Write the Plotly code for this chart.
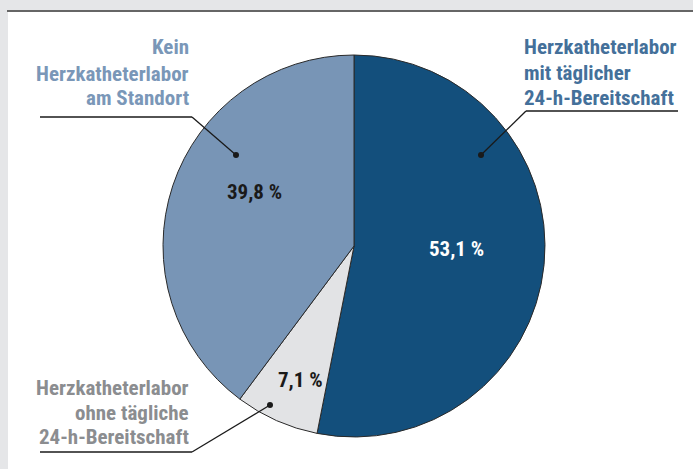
import plotly.graph_objects as go

categories = ["Herzkatheterlabor mit täglicher 24-h-Bereitschaft",
              "Herzkatheterlabor ohne tägliche 24-h-Bereitschaft",
              "Kein Herzkatheterlabor am Standort"]
values = [53.1, 7.1, 39.8]
value_labels = ["53,1 %", "7,1 %", "39,8 %"]
slice_colors = ["#134f7c", "#e2e3e5", "#7895b6"]
text_colors = ["#ffffff", "#1a1a1a", "#1a1a1a"]
label_lines = [["Herzkatheterlabor", "mit täglicher", "24-h-Bereitschaft"],
               ["Herzkatheterlabor", "ohne tägliche", "24-h-Bereitschaft"],
               ["Kein", "Herzkatheterlabor", "am Standort"]]
label_colors = ["#44709a", "#8b8d90", "#7a97b8"]

W, H = 693, 469
FONT = "Roboto Condensed, Liberation Sans Narrow, Arial Narrow, DejaVu Sans Condensed, sans-serif"


def px(x, y):
    return x / W, 1 - y / H


cx, cy, r = 354, 246, 191
x0, y0 = px(cx - r, cy + r)
x1, y1 = px(cx + r, cy - r)

fig = go.Figure(go.Pie(
    labels=categories, values=values, sort=False, direction="clockwise",
    rotation=0, marker=dict(colors=slice_colors, line=dict(color="#2a2a2a", width=1)),
    textinfo="none",
    domain=dict(x=[x0, x1], y=[y0, y1]), showlegend=False, hoverinfo="label+value",
))

shapes = []
shapes.append(dict(type="rect", xref="paper", yref="paper", x0=8 / W, x1=1, y0=0, y1=1 - 11 / H,
                   fillcolor="white", line=dict(width=0), layer="below"))
shapes.append(dict(type="line", xref="paper", yref="paper", x0=7 / W, x1=1, y0=1 - 11 / H, y1=1 - 11 / H,
                   line=dict(color="#666666", width=2)))


def leader(points, dot):
    for (a, b), (c, d) in zip(points[:-1], points[1:]):
        ax, ay = px(a, b)
        bx, by = px(c, d)
        shapes.append(dict(type="line", xref="paper", yref="paper", x0=ax, y0=ay, x1=bx, y1=by,
                           line=dict(color="#1a1a1a", width=1.3)))
    dx, dy = px(*dot)
    rr = 3
    shapes.append(dict(type="circle", xref="paper", yref="paper",
                       x0=dx - rr / W, x1=dx + rr / W, y0=dy - rr / H, y1=dy + rr / H,
                       fillcolor="#1a1a1a", line=dict(width=0)))


leader([(678, 111), (526, 111), (481, 155)], (481, 155))
leader([(40, 452), (192, 452), (270, 405)], (270, 405))
leader([(40, 117), (192, 117), (236, 155)], (236, 155))

annotations = []

# category labels, one line each
label_pos = [(522, [47, 73, 98], "left"), (191, [388, 413, 437], "right"), (191, [47, 74, 98], "right")]
for lines, color, (lx, ys, anchor) in zip(label_lines, label_colors, label_pos):
    for line, ly in zip(lines, ys):
        ax, ay = px(lx, ly)
        annotations.append(dict(text=line, x=ax, y=ay, xref="paper", yref="paper", xanchor=anchor,
                                yanchor="middle", showarrow=False,
                                font=dict(family=FONT, size=21, color=color, weight="bold")))

# percentage labels
pct_pos = [(457, 249), (300, 380), (254, 192)]
for txt, col, (tx, ty) in zip(value_labels, text_colors, pct_pos):
    ax, ay = px(tx, ty)
    annotations.append(dict(text=txt, x=ax, y=ay, xref="paper", yref="paper", xanchor="center",
                            yanchor="middle", showarrow=False,
                            font=dict(family=FONT, size=21, color=col, weight="bold")))

fig.update_layout(width=W, height=H, margin=dict(l=0, r=0, t=0, b=0),
                  paper_bgcolor="#e5e6e8", plot_bgcolor="white",
                  shapes=shapes, annotations=annotations)
fig.write_html("out.html", config={"displayModeBar": False},
               post_script="document.body.style.margin='0';document.body.style.overflow='hidden';")
